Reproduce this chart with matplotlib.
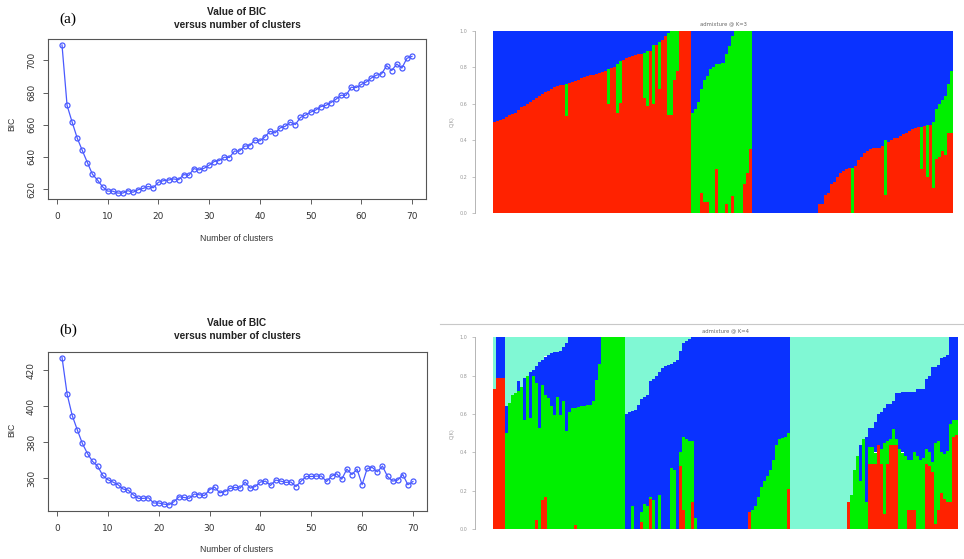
import numpy as np
import matplotlib.pyplot as plt
from matplotlib.lines import Line2D

# BIC versus number of clusters, panels (a) and (b)
n_clusters = list(range(1, 71))
bic_a = [709.6, 672.0, 661.6, 651.7, 644.0, 636.5, 629.2, 625.6, 621.4, 618.7,
         618.7, 617.5, 617.5, 619.0, 618.0, 619.6, 620.4, 621.6, 620.8, 624.2,
         625.2, 625.6, 626.3, 625.8, 629.0, 628.5, 632.7, 631.9, 632.9, 634.8,
         637.1, 637.7, 639.8, 639.6, 643.6, 643.6, 646.7, 646.9, 650.5, 649.9,
         652.4, 655.9, 654.9, 658.0, 659.0, 661.6, 660.1, 664.5, 666.0, 667.8,
         669.1, 671.2, 672.0, 673.7, 675.8, 678.3, 678.3, 683.3, 683.1, 685.0,
         686.6, 689.1, 690.8, 691.6, 696.7, 693.7, 697.7, 695.2, 701.3, 702.5]
bic_b = [427.2, 406.8, 394.9, 386.9, 379.3, 373.7, 369.3, 366.7, 361.5, 359.1,
         357.8, 356.3, 353.9, 353.3, 350.7, 348.7, 348.7, 349.0, 346.1, 346.1,
         345.5, 345.1, 346.8, 349.6, 349.2, 348.7, 351.1, 350.7, 350.3, 353.5,
         355.0, 351.8, 352.4, 354.2, 354.8, 354.4, 357.8, 354.4, 355.3, 357.8,
         358.3, 355.9, 358.9, 358.3, 357.6, 357.8, 355.3, 358.3, 360.9, 360.9,
         361.1, 361.1, 358.1, 361.1, 362.4, 359.4, 365.0, 362.0, 365.0, 356.3,
         365.4, 365.9, 363.5, 366.7, 360.9, 358.3, 358.9, 362.0, 356.3, 358.1]
yticks_a = [620, 640, 660, 680, 700]
yticks_b = [360, 380, 400, 420]
xticks_bic = [0, 10, 20, 30, 40, 50, 60, 70]

# admixture K=3: red (bottom), green, blue (rest, top)
red_k3 = ([0.50, 0.505, 0.51, 0.515, 0.53, 0.54, 0.545, 0.55, 0.565, 0.58,
           0.59, 0.60, 0.61, 0.62, 0.63, 0.64, 0.655, 0.665, 0.67, 0.68,
           0.69, 0.695, 0.70, 0.705, 0.535, 0.715, 0.72, 0.725, 0.73, 0.74,
           0.745, 0.75, 0.755, 0.76, 0.765, 0.77, 0.775, 0.78, 0.60, 0.795,
           0.80, 0.55, 0.605, 0.84, 0.85, 0.855, 0.86, 0.865, 0.87, 0.872,
           0.63, 0.59, 0.89, 0.60, 0.92, 0.68, 0.95, 0.97, 0.54, 0.54,
           0.73, 0.78, 1.0, 1.0, 1.0, 1.0]
          + [0, 0, 0, 0.11, 0.06, 0.06, 0, 0, 0.24, 0,
             0, 0.05, 0, 0.095, 0, 0, 0, 0.16, 0.22, 0.35]
          + [0.0] * 22
          + [0.05, 0.05, 0.10, 0.11, 0.16, 0.17, 0.20, 0.22, 0.23, 0.24, 0.25,
             0.0, 0.26, 0.29, 0.31, 0.33, 0.34, 0.35, 0.355, 0.36, 0.36, 0.37,
             0.10, 0.39, 0.40, 0.41, 0.415, 0.425, 0.435, 0.44, 0.45, 0.46, 0.465, 0.47,
             0.245, 0.478, 0.20, 0.485, 0.14, 0.30, 0.31, 0.34, 0.32, 0.44, 0.44])
green_k3 = ([0.0] * 20
            + [0, 0, 0, 0, 0.175, 0, 0, 0, 0, 0,
               0, 0, 0, 0, 0, 0, 0, 0, 0.19, 0,
               0, 0.27, 0.23, 0, 0, 0, 0, 0, 0, 0,
               0.25, 0.30, 0, 0.32, 0, 0.26, 0, 0, 0.45, 0.46,
               0.27, 0.22, 0, 0, 0, 0]
            + [0.55, 0.57, 0.61, 0.57, 0.67, 0.69, 0.79, 0.80, 0.575, 0.82,
               0.825, 0.82, 0.915, 0.875, 1.0, 1.0, 1.0, 0.84, 0.78, 0.65]
            + [0.0] * 33
            + [0.25, 0, 0, 0, 0, 0, 0, 0, 0, 0, 0,
               0.30, 0, 0, 0, 0, 0, 0, 0, 0, 0, 0, 0,
               0.23, 0, 0.285, 0, 0.36, 0.27, 0.29, 0.28, 0.32, 0.27, 0.34])

# admixture K=4: red (bottom), green, blue, aquamarine (rest, top)
red_k4 = ([0.73, 0.79, 0.79, 0.79, 0, 0, 0, 0, 0, 0,
           0, 0, 0, 0, 0.05, 0, 0.15, 0.17, 0, 0,
           0, 0, 0, 0, 0, 0, 0, 0.02, 0, 0]
          + [0.0] * 14
          + [0, 0, 0, 0, 0, 0.04, 0, 0, 0.16, 0,
             0, 0, 0, 0, 0, 0, 0, 0, 0.33, 0.10,
             0, 0, 0.14, 0]
          + [0.0] * 17
          + [0.09] + [0.0] * 12 + [0.21]
          + [0.0] * 19
          + [0.14, 0, 0, 0, 0, 0, 0, 0.34, 0.34, 0.34,
             0.44, 0.34, 0.08, 0.34, 0.44, 0.44, 0.44, 0, 0, 0,
             0.10, 0.10, 0.10, 0, 0, 0, 0.34, 0.33, 0.30, 0.03,
             0.10, 0.19, 0.16, 0.14, 0.14, 0.48, 0.49])
green_k4 = ([0, 0, 0, 0, 0.50, 0.66, 0.70, 0.71, 0.72, 0.74,
             0.57, 0.80, 0.58, 0.80, 0.71, 0.53, 0.60, 0.53, 0.685, 0.64,
             0.595, 0.69, 0.595, 0.67, 0.51, 0.61, 0.63, 0.61, 0.635, 0.64,
             0.64, 0.645, 0.65, 0.67, 0.78, 0.86, 1, 1, 1, 1,
             1, 1, 1, 1]
            + [0, 0, 0.12, 0, 0, 0.05, 0.13, 0.12, 0.01, 0.15,
               0, 0.18, 0, 0, 0, 0.32, 0.31, 0, 0.07, 0.38,
               0.47, 0.46, 0.32, 0.06]
            + [0.0] * 17
            + [0, 0.10, 0.12, 0.17, 0.22, 0.25, 0.28, 0.31, 0.36, 0.44,
               0.47, 0.475, 0.48, 0.29]
            + [0.0] * 19
            + [0, 0.18, 0.31, 0.38, 0.25, 0.47, 0.14, 0.09, 0.09, 0.06,
               0, 0.08, 0.37, 0.12, 0.03, 0.08, 0.03, 0.42, 0.40, 0.38,
               0.26, 0.26, 0.30, 0.38, 0.36, 0.37, 0.08, 0.07, 0.05, 0.42,
               0.36, 0.21, 0.23, 0.27, 0.41, 0.09, 0.08])
blue_k4 = ([0, 0.21, 0.21, 0.21, 0.14, 0, 0, 0, 0.05, 0,
            0.22, 0, 0.24, 0.03, 0.09, 0.34, 0.13, 0.20, 0.225, 0.28,
            0.33, 0.235, 0.335, 0.28, 0.46, 0.39, 0.37, 0.37, 0.365, 0.36,
            0.36, 0.355, 0.35, 0.33, 0.22, 0.14, 0, 0, 0, 0,
            0, 0, 0, 0]
           + [0.60, 0.61, 0.495, 0.62, 0.65, 0.59, 0.56, 0.58, 0.60, 0.635,
              0.80, 0.64, 0.84, 0.85, 0.855, 0.54, 0.56, 0.88, 0.53, 0.49,
              0.51, 0.53, 0.54, 0.94]
           + [1.0] * 17
           + [0.91, 0.90, 0.88, 0.83, 0.78, 0.75, 0.72, 0.69, 0.64, 0.56,
              0.53, 0.525, 0.52, 0.50]
           + [0.0] * 19
           + [0, 0, 0, 0, 0.19, 0, 0.34, 0.10, 0.10, 0.16,
              0.16, 0.19, 0.18, 0.195, 0.185, 0.15, 0.24, 0.29, 0.315, 0.335,
              0.355, 0.355, 0.315, 0.353, 0.373, 0.363, 0.365, 0.40, 0.495, 0.395,
              0.394, 0.49, 0.51, 0.50, 0.45, 0.43, 0.43])

admix_ticks = [0.0, 0.2, 0.4, 0.6, 0.8, 1.0]

W, H = 964, 559
RED, GREEN, BLUE, AQUA = "#ff2200", "#00f000", "#0a32ff", "#80f8d4"
LINE = "#4a5aff"

fig = plt.figure(figsize=(W / 100, H / 100), dpi=100)


def rect(left, top, right, bottom):
    return [left / W, 1 - bottom / H, (right - left) / W, (bottom - top) / H]


def ftext(x, y, s, **kw):
    fig.text(x / W, 1 - y / H, s, ha="center", va="center", **kw)


def bic_panel(box, values, yticks, tag, top):
    ax = fig.add_axes(box)
    ax.plot(n_clusters, values, color=LINE, lw=0.9, marker="o", ms=3.6,
            mfc="none", mec=LINE, mew=0.9)
    lo, hi = min(values), max(values)
    pad = 0.04 * (hi - lo)
    ax.set_ylim(lo - pad, hi + pad)
    ax.set_xlim(1 - 0.04 * 69, 70 + 0.04 * 69)
    ax.set_xticks(xticks_bic)
    ax.set_yticks(yticks)
    ax.set_yticklabels([str(v) for v in yticks], rotation=90, va="center")
    ax.tick_params(direction="out", length=3.6, width=0.6, colors="#444444",
                   labelsize=6.5, labelcolor="#333333")
    ax.tick_params(axis="x", pad=6)
    ax.tick_params(axis="y", pad=5)
    for sp in ax.spines.values():
        sp.set_color("#555555")
        sp.set_linewidth(0.8)
    ftext(237, top, "Value of BIC", fontsize=7.3, fontweight="bold",
          family="Liberation Sans", color="#222222")
    ftext(237, top + 13.3, "versus number of clusters", fontsize=7.3,
          fontweight="bold", family="Liberation Sans", color="#222222")
    ftext(68, top + 8, tag, fontsize=11, family="Liberation Serif")
    return ax


def admix_panel(box, layers, colors, title, title_y):
    ax = fig.add_axes(box)
    n = len(layers[0])
    xs = np.arange(n) + 0.5
    bottom = np.zeros(n)
    for vals, col in zip(layers, colors):
        vals = np.array(vals, dtype=float)
        ax.bar(xs, vals, width=1.0, bottom=bottom, color=col,
               linewidth=0, antialiased=False)
        bottom = bottom + vals
    ax.set_xlim(0, n)
    ax.set_ylim(0, 1)
    for side in ["top", "right", "bottom"]:
        ax.spines[side].set_visible(False)
    ax.spines["left"].set_position(("outward", 13))
    ax.spines["left"].set_bounds(0, 1)
    ax.spines["left"].set_color("#aaaaaa")
    ax.spines["left"].set_linewidth(0.6)
    ax.set_xticks([])
    ax.set_yticks(admix_ticks)
    ax.set_yticklabels([f"{t:.1f}" for t in admix_ticks])
    ax.tick_params(axis="y", length=2.5, width=0.5, colors="#aaaaaa",
                   labelsize=3.5, labelcolor="#999999", pad=3)
    ax.set_ylabel("Q(K)", fontsize=3.5, color="#999999", labelpad=4)
    mid = (box[0] + box[2] / 2) * W
    ftext(mid, title_y, title, fontsize=3.8, color="#666666")
    return ax


bic_panel(rect(48, 39, 426, 199), bic_a, yticks_a, "(a)", 11.7)
ftext(237, 238.3, "Number of clusters", fontsize=6.2, family="Liberation Sans", color="#333333")
ftext(12, 124, "BIC", fontsize=6.2, family="Liberation Sans", color="#333333", rotation=90)

bic_panel(rect(48, 351.7, 427, 510.7), bic_b, yticks_b, "(b)", 322.7)
ftext(237, 549.3, "Number of clusters", fontsize=6.2, family="Liberation Sans", color="#333333")
ftext(12, 430, "BIC", fontsize=6.2, family="Liberation Sans", color="#333333", rotation=90)

blue_k3 = 1 - np.array(red_k3) - np.array(green_k3)
admix_panel(rect(493.3, 30.7, 952.7, 213.3), [red_k3, green_k3, blue_k3],
            [RED, GREEN, BLUE], "admixture @ K=3", 24.3)

aqua_k4 = 1 - np.array(red_k4) - np.array(green_k4) - np.array(blue_k4)
admix_panel(rect(493.3, 337.3, 958.3, 529.3), [red_k4, green_k4, blue_k4, aqua_k4],
            [RED, GREEN, BLUE, AQUA], "admixture @ K=4", 331)

fig.add_artist(Line2D([440 / W, 1.0], [1 - 324 / H, 1 - 324 / H],
                      color="#c8c8c8", lw=0.8))

fig.savefig("out.png", dpi=100)
